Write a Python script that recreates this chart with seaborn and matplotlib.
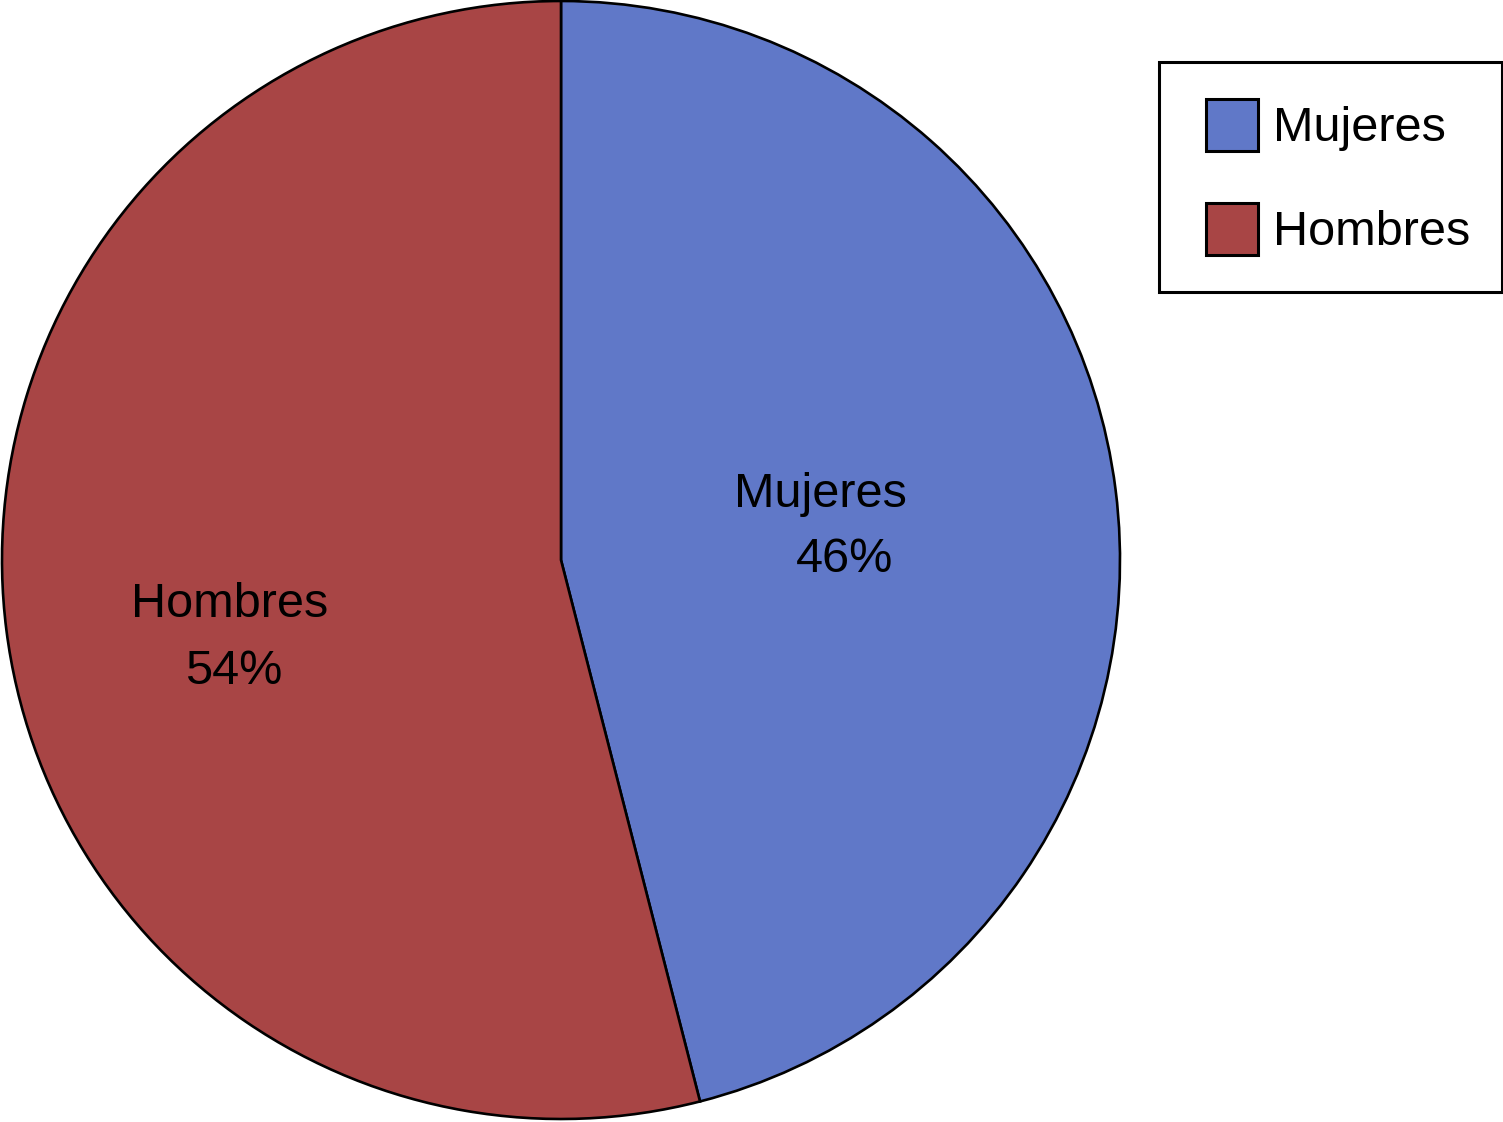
# Pie chart: distribucion por sexo (Mujeres / Hombres)
import matplotlib
matplotlib.use("Agg")
import matplotlib.pyplot as plt
from matplotlib.patches import Rectangle
from matplotlib.legend_handler import HandlerPatch
import seaborn as sns

# data
categorias = ["Mujeres", "Hombres"]
porcentajes = [46, 54]
colores = ["#6078C8", "#A84545"]

sns.set_theme(style="white")
plt.rcParams['font.family'] = ['Liberation Sans', 'DejaVu Sans']
plt.rcParams['text.color'] = 'black'

fig = plt.figure(figsize=(15.03, 11.22), dpi=100)
ax = fig.add_axes([2/1503, 3/1122, 1118/1503, 1118/1122])

wedges, _ = ax.pie(porcentajes, colors=colores, startangle=90, counterclock=False,
                   radius=1, wedgeprops=dict(edgecolor="black", linewidth=1.9))
ax.set_xlim(-1.0, 1.0)
ax.set_ylim(-1.0, 1.0)
ax.set_aspect("equal")
ax.axis("off")

# labels inside the slices
fs = 35
ax.text(0.465, 0.117, categorias[0], ha="center", va="center", fontsize=fs, color="black")
ax.text(0.508, 0.0, f"{porcentajes[0]}%", ha="center", va="center", fontsize=fs, color="black")
ax.text(-0.593, -0.08, categorias[1], ha="center", va="center", fontsize=fs, color="black")
ax.text(-0.585, -0.2, f"{porcentajes[1]}%", ha="center", va="center", fontsize=fs, color="black")


# square handle, right end of the handle area, vertically centred
def square_patch(legend, orig_handle, xdescent, ydescent, width, height, fontsize):
    s = 1.07 * fontsize
    return Rectangle((-xdescent + width - s, -ydescent + (height - s) / 2), s, s)


leg = fig.legend(wedges, categorias, loc="upper right",
                 bbox_to_anchor=(1502/1503, 1 - 62/1122), fontsize=fs,
                 fancybox=False, edgecolor="black", framealpha=1,
                 handlelength=1.36, handleheight=1.58, handletextpad=0.31,
                 labelspacing=0.86, borderpad=0.66, borderaxespad=0,
                 handler_map={w: HandlerPatch(patch_func=square_patch) for w in wedges})
leg.get_frame().set_linewidth(2.2)
for h in leg.legend_handles:
    h.set_linewidth(2.2)
for t in leg.get_texts():
    t.set_color("black")

fig.savefig("out.png", dpi=100)
